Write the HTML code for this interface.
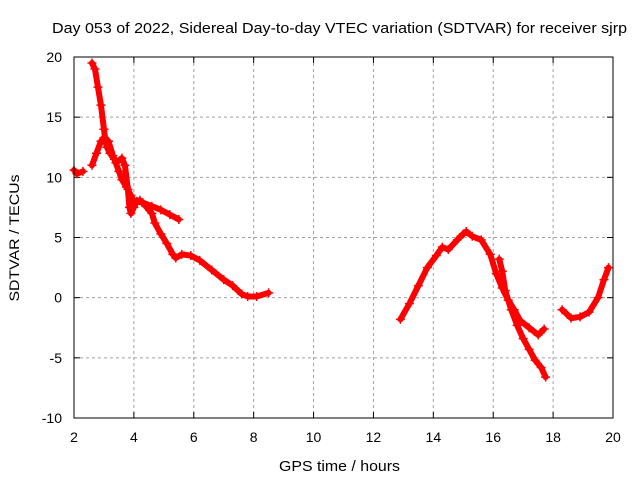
<!DOCTYPE html>
<html><head><meta charset="utf-8"><style>
body{margin:0;background:#fff}
svg{display:block;font-family:"Liberation Sans",sans-serif}
</style></head><body>
<svg id="chart" width="640" height="480" viewBox="0 0 640 480">
<rect width="640" height="480" fill="#fff"/>
<text x="339.5" y="33" font-size="15" text-anchor="middle" textLength="575" lengthAdjust="spacingAndGlyphs">Day 053 of 2022, Sidereal Day-to-day VTEC variation (SDTVAR) for receiver sjrp</text>
<text x="339.5" y="471" font-size="15" text-anchor="middle" textLength="121" lengthAdjust="spacingAndGlyphs">GPS time / hours</text>
<text transform="translate(19,238) rotate(-90)" font-size="14" text-anchor="middle" textLength="127" lengthAdjust="spacingAndGlyphs">SDTVAR / TECUs</text>
<g id="grid"></g><g id="ticks"></g><g id="series"></g>
<rect x="74" y="57" width="539" height="361" fill="none" stroke="#000" stroke-width="1"/>
</svg>
<script>
const xTicks=[2,4,6,8,10,12,14,16,18,20];
const yTicks=[-10,-5,0,5,10,15,20];
const traceA=[[2.0,10.6],[2.1,10.3],[2.3,10.5]];
const traceB=[[2.6,19.5],[2.7,19.0],[2.8,17.5],[2.9,16],[3.0,14],[3.05,13],[3.1,12.5],[3.2,12],[3.35,11.5],[3.5,10.5],[3.6,9.8],[3.75,9.2],[3.9,8.5],[4.0,8.0],[4.2,8.1],[4.4,7.6],[4.6,7.0],[4.7,6.2],[4.9,5.3],[5.1,4.5],[5.3,3.6],[5.4,3.3],[5.6,3.6],[5.9,3.5],[6.2,3.1],[6.6,2.3],[7.0,1.5],[7.3,1.0],[7.6,0.3],[7.8,0.1],[8.1,0.1],[8.5,0.4]];
const traceC=[[2.6,11.0],[2.75,12],[2.9,13],[3.0,13.3],[3.15,13.0],[3.3,11.8],[3.4,11.2],[3.6,11.6],[3.7,11.0],[3.8,9.0],[3.85,7.5],[3.9,7.0],[4.0,7.5],[4.1,8.0],[4.3,7.9],[4.6,7.6],[4.9,7.3],[5.2,6.9],[5.5,6.5]];
const traceD=[[12.9,-1.8],[13.2,-0.5],[13.5,1],[13.8,2.5],[14.1,3.5],[14.3,4.2],[14.5,4.0],[14.8,4.8],[15.0,5.3],[15.1,5.5],[15.3,5.1],[15.6,4.8],[15.9,3.6],[16.1,2.0],[16.3,0.8],[16.5,-0.2],[16.7,-1.0],[16.9,-1.9],[17.2,-2.5],[17.5,-3.1],[17.7,-2.6]];
const traceE=[[16.2,3.2],[16.3,2.2],[16.4,0.6],[16.6,-1.0],[16.8,-2.3],[17.0,-3.4],[17.2,-4.3],[17.4,-5.2],[17.6,-5.8],[17.75,-6.6]];
const traceF=[[18.3,-1.0],[18.6,-1.7],[18.9,-1.6],[19.2,-1.2],[19.5,0],[19.7,1.5],[19.85,2.5]];
const traces=[traceA,traceB,traceC,traceD,traceE,traceF];

const X0=74,X1=613,Y0=418,Y1=57;
const xs=v=>X0+(v-2)/18*(X1-X0);
const ys=v=>Y0-(v+10)/30*(Y0-Y1);
const NS="http://www.w3.org/2000/svg";
function mk(t,a,p){const e=document.createElementNS(NS,t);for(const k in a)e.setAttribute(k,a[k]);p.appendChild(e);return e;}
const grid=document.getElementById('grid'),ticks=document.getElementById('ticks'),ser=document.getElementById('series');
xTicks.forEach(v=>{const x=xs(v);
 if(v>2&&v<20){const g=mk('line',{x1:x,x2:x,y1:Y1,y2:Y0,stroke:'#a0a0a0','stroke-dasharray':'3,3'},grid);
 
 }
 mk('line',{x1:x,x2:x,y1:Y0,y2:Y0-6,stroke:'#000'},ticks);mk('line',{x1:x,x2:x,y1:Y1,y2:Y1+6,stroke:'#000'},ticks);
 const t=mk('text',{x:x,y:442,'font-size':14,'text-anchor':'middle'},ticks);t.textContent=v;
 
 });
yTicks.forEach(v=>{const y=ys(v);
 if(v>-10&&v<20){const g=mk('line',{x1:X0,x2:X1,y1:y,y2:y,stroke:'#a0a0a0','stroke-dasharray':'3,3'},grid);
 
 }
 mk('line',{x1:X0,x2:X0+6,y1:y,y2:y,stroke:'#000'},ticks);mk('line',{x1:X1,x2:X1-6,y1:y,y2:y,stroke:'#000'},ticks);
 const t=mk('text',{x:62,y:y+5,'font-size':14,'text-anchor':'end'},ticks);t.textContent=v;
 
 });
traces.forEach(tr=>{
 const pl=mk('polyline',{points:tr.map(p=>xs(p[0])+','+ys(p[1])).join(' '),fill:'none',stroke:'#ff0000','stroke-width':6,'stroke-linejoin':'round','stroke-linecap':'round'},ser);
 
 
 tr.forEach(p=>{const x=xs(p[0]),y=ys(p[1]);
  const m=mk('path',{d:`M${x-4.5},${y}H${x+4.5}M${x},${y-4.5}V${y+4.5}`,stroke:'#ff0000','stroke-width':1.5},ser);
  
  });
});
</script>
</body></html>
